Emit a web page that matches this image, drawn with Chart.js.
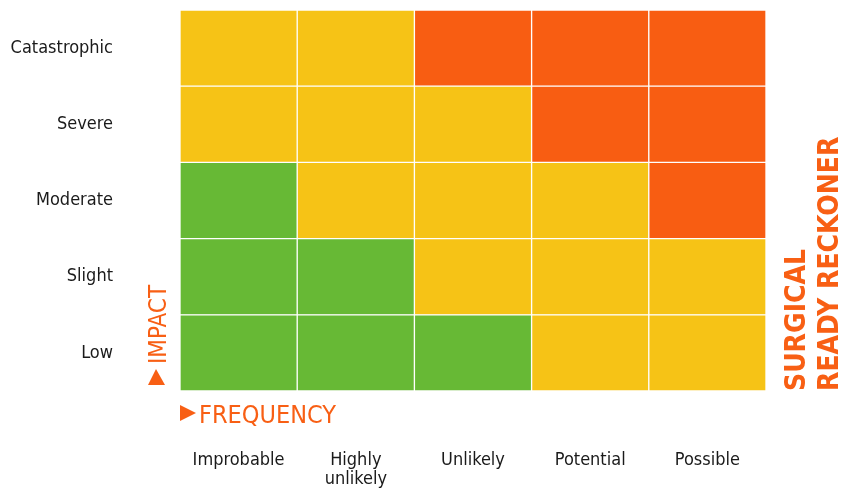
<!DOCTYPE html>
<html>
<head>
<meta charset="utf-8">
<script src="https://cdn.jsdelivr.net/npm/chart.js@4/dist/chart.umd.min.js"></script>
<style>
  html, body { margin: 0; padding: 0; background: #ffffff; }
  #wrap { width: 843px; height: 488px; }
</style>
</head>
<body>
<div id="wrap"><canvas id="c" width="843" height="488"></canvas></div>
<script>
// ---- data ----
const frequencies = ['Improbable', ['Highly', 'unlikely'], 'Unlikely', 'Potential', 'Possible'];
const impacts = ['Low', 'Slight', 'Moderate', 'Severe', 'Catastrophic'];
const lowLevels          = ['low', 'low', 'low', 'medium', 'medium'];
const slightLevels       = ['low', 'low', 'medium', 'medium', 'medium'];
const moderateLevels     = ['low', 'medium', 'medium', 'medium', 'high'];
const severeLevels       = ['medium', 'medium', 'medium', 'high', 'high'];
const catastrophicLevels = ['medium', 'medium', 'high', 'high', 'high'];
const cellHeights = [1, 1, 1, 1, 1];
const frequencyTitle = 'FREQUENCY';
const impactTitle = 'IMPACT';
const sideTitleLines = ['SURGICAL', 'READY RECKONER'];

// ---- styles ----
const levelColors = { low: '#67B935', medium: '#F6C316', high: '#F85D12' };
const orange = '#F85F14';
const labelFont = '"DejaVu Sans Condensed", "DejaVu Sans", sans-serif';

const rowLevels = [lowLevels, slightLevels, moderateLevels, severeLevels, catastrophicLevels];
const datasets = impacts.map((name, i) => ({
  label: name,
  data: cellHeights.slice(),
  backgroundColor: rowLevels[i].map(l => levelColors[l]),
  borderColor: '#ffffff',
  borderWidth: 1,
  borderSkipped: false,
  barPercentage: 1,
  categoryPercentage: 1
}));

const annotations = {
  id: 'annotations',
  afterDraw(chart) {
    const ctx = chart.ctx;
    const a = chart.chartArea;
    ctx.save();
    ctx.fillStyle = orange;
    // FREQUENCY arrow + text
    ctx.beginPath();
    ctx.moveTo(a.left, a.bottom + 14);
    ctx.lineTo(a.left + 16, a.bottom + 22);
    ctx.lineTo(a.left, a.bottom + 30);
    ctx.closePath();
    ctx.fill();
    ctx.font = '25px ' + labelFont;
    ctx.textAlign = 'left';
    ctx.textBaseline = 'alphabetic';
    ctx.fillText(frequencyTitle, a.left + 19, a.bottom + 32);
    // IMPACT arrow + text
    ctx.beginPath();
    ctx.moveTo(a.left - 32, a.bottom - 6);
    ctx.lineTo(a.left - 24, a.bottom - 22);
    ctx.lineTo(a.left - 15, a.bottom - 6);
    ctx.closePath();
    ctx.fill();
    ctx.save();
    ctx.translate(a.left - 14, a.bottom - 27);
    ctx.rotate(-Math.PI / 2);
    ctx.font = '24px ' + labelFont;
    ctx.fillText(impactTitle, 0, 0);
    ctx.restore();
    // side title
    ctx.font = 'bold 28px ' + labelFont;
    sideTitleLines.forEach((t, i) => {
      ctx.save();
      ctx.translate(a.right + 39 + i * 33, a.bottom);
      ctx.rotate(-Math.PI / 2);
      ctx.fillText(t, 0, 0);
      ctx.restore();
    });
    ctx.restore();
  }
};

new Chart(document.getElementById('c'), {
  type: 'bar',
  data: { labels: frequencies, datasets },
  options: {
    responsive: false,
    animation: false,
    layout: { padding: { left: 0, top: 10, right: 77, bottom: 0 } },
    plugins: { legend: { display: false }, tooltip: { enabled: false } },
    scales: {
      x: {
        stacked: true,
        grid: { display: false, drawTicks: false },
        border: { display: false },
        ticks: {
          padding: 59,
          color: '#1a1a1a',
          font: { family: labelFont, size: 18, lineHeight: 1.1 },
          maxRotation: 0, autoSkip: false
        },
        afterFit(scale) {
          scale.height = 97;
          scale.paddingLeft = 0;
          scale.paddingRight = 0;
        }
      },
      y: {
        stacked: true,
        min: 0, max: 5,
        grid: { display: false, drawTicks: false },
        border: { display: false },
        afterBuildTicks(scale) { scale.ticks = impacts.map((_, i) => ({ value: i + 0.5 })); },
        ticks: {
          padding: 67,
          color: '#1a1a1a',
          font: { family: labelFont, size: 18 },
          callback: (v, i) => impacts[i]
        },
        afterFit(scale) {
          scale.width = 180;
          scale.paddingTop = 0;
          scale.paddingBottom = 0;
        }
      }
    }
  },
  plugins: [annotations]
});
</script>
</body>
</html>
